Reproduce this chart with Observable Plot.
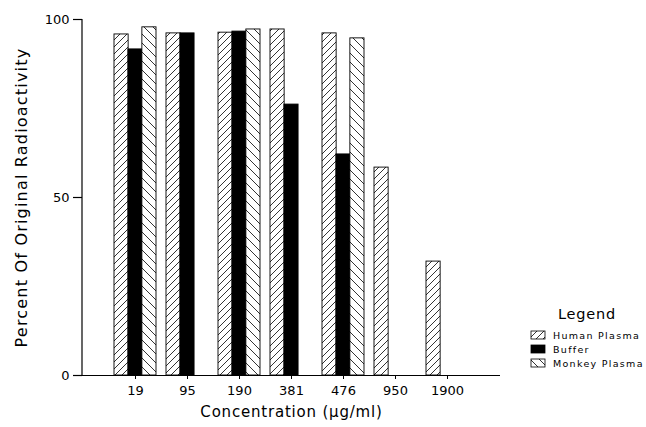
<!DOCTYPE html>
<html>
<head>
<meta charset="utf-8">
<script src="https://cdn.jsdelivr.net/npm/d3@7"></script>
<script src="https://cdn.jsdelivr.net/npm/@observablehq/plot@0.6"></script>
<style>
  body { margin: 0; background: #fff; }
  #chart svg { display: block; }
</style>
</head>
<body>
<div id="chart"></div>
<script>
// ---- data ----
const concentrations = ["19", "95", "190", "381", "476", "950", "1900"];
const series = ["Human Plasma", "Buffer", "Monkey Plasma"];
const humanPlasma  = [95.8, 96.1, 96.3, 97.2, 96.1, 58.4, 32.0];
const bufferVals   = [91.6, 96.1, 96.6, 76.1, 62.1, null, null];
const monkeyPlasma = [97.8, null, 97.2, null, 94.7, null, null];
const yTicks = [0, 50, 100];
const xLabel = "Concentration (\u03BCg/ml)";
const yLabel = "Percent Of Original Radioactivity";

const valuesBySeries = [humanPlasma, bufferVals, monkeyPlasma];
const rows = [];
series.forEach((s, i) => valuesBySeries[i].forEach((v, j) => {
  if (v != null) rows.push({series: s, conc: concentrations[j], value: v});
}));

// ---- layout ----
const W = 646, H = 427, ML = 82, MR = 146, MT = 19, MB = 52;
const padIn = 0.2, padOut = 0.6;
const step = (W - ML - MR) / (concentrations.length - padIn + 2 * padOut);
const bw = step * (1 - padIn);
const fills = {
  "Human Plasma": "url(#hatch-human)",
  "Buffer": "black",
  "Monkey Plasma": "url(#hatch-monkey)"
};
const barFor = (s, i) => Plot.barY(rows.filter(d => d.series === s), {
  x: "conc", y: "value", fill: fills[s], stroke: "black", strokeWidth: 0.9,
  insetLeft: i * bw / 3, insetRight: (2 - i) * bw / 3
});

const chart = Plot.plot({
  width: W, height: H,
  marginLeft: ML, marginRight: MR, marginTop: MT, marginBottom: MB,
  style: {fontFamily: "DejaVu Sans", fontSize: "13px", color: "black", background: "white"},
  x: {type: "band", domain: concentrations, paddingInner: padIn, paddingOuter: padOut},
  y: {domain: [0, 100]},
  marks: [
    ...series.map(barFor),
    Plot.ruleY([0], {stroke: "black", strokeWidth: 1.2, insetLeft: -7}),
    Plot.axisY({ticks: yTicks, tickSize: 9, tickPadding: 4, label: null, strokeWidth: 1.2}),
    Plot.axisX({tickSize: 4, tickPadding: 6, label: null}),
    Plot.text([xLabel], {frameAnchor: "bottom", dy: 41, fontSize: 15, textAnchor: "middle", lineAnchor: "bottom"}),
    Plot.text([yLabel], {frameAnchor: "left", dx: -61, rotate: -90, fontSize: 16, textAnchor: "middle", lineAnchor: "middle"})
  ]
});

document.getElementById("chart").appendChild(chart);

const svg = d3.select(chart);
svg.selectAll("text").filter(function() { return this.textContent === xLabel; }).attr("letter-spacing", 0.8);
svg.selectAll("text").filter(function() { return this.textContent === yLabel; }).attr("letter-spacing", 1.2);
// tick label size
const tickTexts = new Set([...concentrations, ...yTicks.map(String)]);
svg.selectAll("text").filter(function() { return tickTexts.has(this.textContent.trim()); })
  .style("font-size", "13px");

// hatch patterns
const defs = svg.insert("defs", ":first-child");
const ph = defs.append("pattern").attr("id", "hatch-human")
  .attr("patternUnits", "userSpaceOnUse").attr("width", 7).attr("height", 7);
ph.append("rect").attr("width", 7).attr("height", 7).attr("fill", "white");
ph.append("path").attr("d", "M0,7 L7,0 M-1,1 L1,-1 M6,8 L8,6")
  .attr("stroke", "black").attr("stroke-width", 0.8);
const pm = defs.append("pattern").attr("id", "hatch-monkey")
  .attr("patternUnits", "userSpaceOnUse").attr("width", 9).attr("height", 9);
pm.append("rect").attr("width", 9).attr("height", 9).attr("fill", "white");
pm.append("path").attr("d", "M0,0 L9,9 M-1,8 L1,10 M8,-1 L10,1")
  .attr("stroke", "black").attr("stroke-width", 0.8);

// y axis line through the scales
const ys = chart.scale("y");
const xs = chart.scale("x");
svg.append("line")
  .attr("x1", xs.range[0]).attr("x2", xs.range[0])
  .attr("y1", ys.apply(0)).attr("y2", ys.apply(100))
  .attr("stroke", "black").attr("stroke-width", 1.2);

// legend
const lg = svg.append("g").attr("font-family", "DejaVu Sans").attr("text-anchor", "start");
lg.append("text").attr("x", 558).attr("y", 319).attr("font-size", 14.5)
  .attr("letter-spacing", 0.8).text("Legend");
series.forEach((s, i) => {
  const cy = 335 + i * 14;
  lg.append("rect").attr("x", 531).attr("y", cy - 4).attr("width", 14).attr("height", 8)
    .attr("fill", fills[s]).attr("stroke", "black").attr("stroke-width", 0.8);
  lg.append("text").attr("x", 553).attr("y", cy + 3.5).attr("font-size", 9.5)
    .attr("letter-spacing", 1.3).text(s);
});
</script>
</body>
</html>
